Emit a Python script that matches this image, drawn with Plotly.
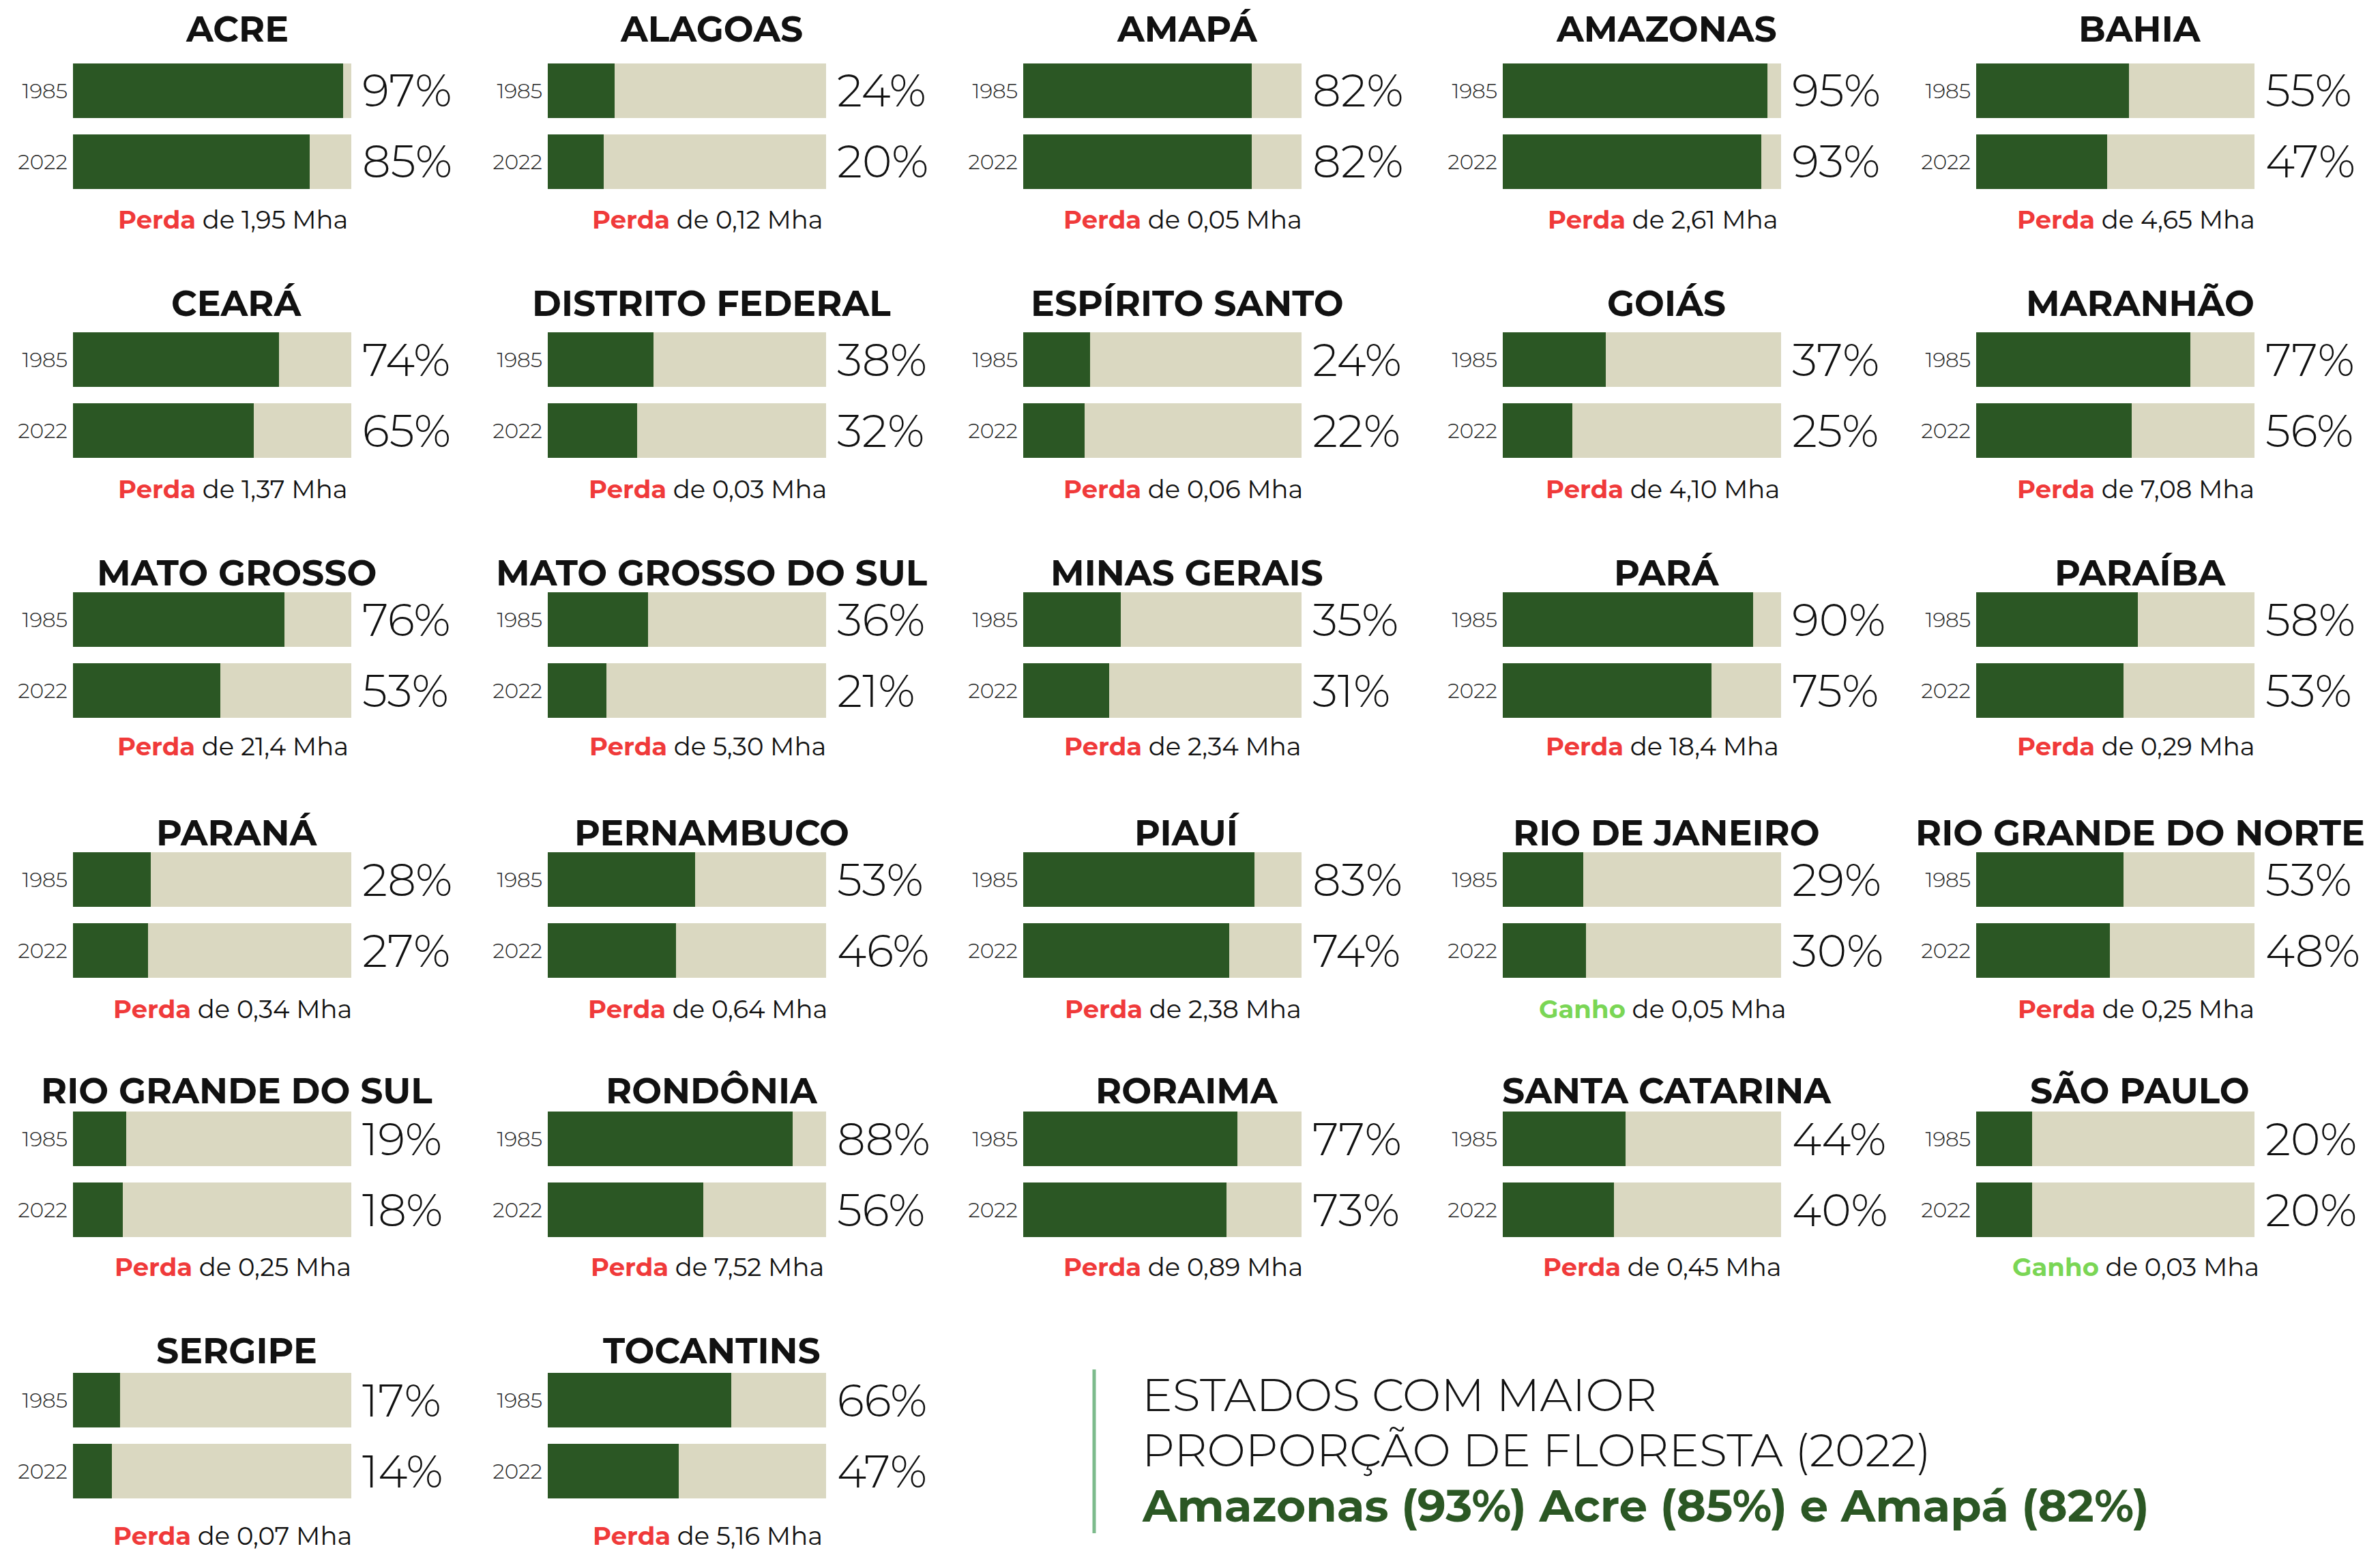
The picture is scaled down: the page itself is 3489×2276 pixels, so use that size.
import plotly.graph_objects as go

# Forest cover share by state (%), 1985 vs 2022, and net change (Mha)
states = [
    "ACRE", "ALAGOAS", "AMAPÁ", "AMAZONAS", "BAHIA",
    "CEARÁ", "DISTRITO FEDERAL", "ESPÍRITO SANTO", "GOIÁS", "MARANHÃO",
    "MATO GROSSO", "MATO GROSSO DO SUL", "MINAS GERAIS", "PARÁ", "PARAÍBA",
    "PARANÁ", "PERNAMBUCO", "PIAUÍ", "RIO DE JANEIRO", "RIO GRANDE DO NORTE",
    "RIO GRANDE DO SUL", "RONDÔNIA", "RORAIMA", "SANTA CATARINA", "SÃO PAULO",
    "SERGIPE", "TOCANTINS",
]
forest_1985 = [97, 24, 82, 95, 55, 74, 38, 24, 37, 77, 76, 36, 35, 90, 58,
               28, 53, 83, 29, 53, 19, 88, 77, 44, 20, 17, 66]
forest_2022 = [85, 20, 82, 93, 47, 65, 32, 22, 25, 56, 53, 21, 31, 75, 53,
               27, 46, 74, 30, 48, 18, 56, 73, 40, 20, 14, 47]
change_kind = ["Perda"] * 18 + ["Ganho", "Perda", "Perda", "Perda", "Perda",
                                "Perda", "Ganho", "Perda", "Perda"]
change_mha = ["1,95", "0,12", "0,05", "2,61", "4,65", "1,37", "0,03", "0,06",
              "4,10", "7,08", "21,4", "5,30", "2,34", "18,4", "0,29", "0,34",
              "0,64", "2,38", "0,05", "0,25", "0,25", "7,52", "0,89", "0,45",
              "0,03", "0,07", "5,16"]
years = ["1985", "2022"]

# Page geometry (pixels)
W, H = 3489, 2276
COL_X = [107, 803, 1500, 2203, 2897]          # left edge of bars per column
ROW_Y = [93, 487, 868, 1249, 1629, 2012]      # top edge of first bar per row
TITLE_GAP = [51, 43, 29, 29, 31, 33]          # title centre above first bar
NOTE_GAP = [44, 45, 41, 45, 43, 54]           # note centre below second bar
BAR_W = 408
BAR_H = 80
PITCH = 104

GREEN = "#2b5724"
BEIGE = "#dad8c1"
RED = "#f03a3a"
LIGHT_GREEN = "#7ad655"
TEXT = "#111111"

LIGHT_FONT = "Montserrat, Inter, 'Open Sans', sans-serif"
BOLD_FONT = "Montserrat, Inter, 'Open Sans', sans-serif"

w = BAR_H / PITCH
fig = go.Figure()
annotations = []


def px(x):
    return x / W


def py(y):
    return 1 - y / H


layout_axes = {}
for i, name in enumerate(states):
    r, c = divmod(i, 5)
    k = i + 1
    xa = "x" if k == 1 else f"x{k}"
    ya = "y" if k == 1 else f"y{k}"
    x0 = COL_X[c]
    top = ROW_Y[r]
    bottom = top + PITCH + BAR_H

    vals = [forest_1985[i], forest_2022[i]]
    ypos = [1, 0]
    fig.add_trace(go.Bar(
        x=vals, y=ypos, orientation="h", width=w,
        marker=dict(color=GREEN, line=dict(width=0)),
        xaxis=xa, yaxis=ya, showlegend=False, hoverinfo="skip",
    ))
    fig.add_trace(go.Bar(
        x=[100 - v for v in vals], y=ypos, orientation="h", width=w,
        marker=dict(color=BEIGE, line=dict(width=0)),
        xaxis=xa, yaxis=ya, showlegend=False, hoverinfo="skip",
    ))

    xkey = "xaxis" if k == 1 else f"xaxis{k}"
    ykey = "yaxis" if k == 1 else f"yaxis{k}"
    layout_axes[xkey] = dict(
        domain=[px(x0), px(x0 + BAR_W)], anchor=ya, range=[0, 100],
        visible=False, fixedrange=True,
    )
    layout_axes[ykey] = dict(
        domain=[py(bottom), py(top)], anchor=xa, range=[-w / 2, 1 + w / 2],
        tickvals=ypos, ticktext=years, showgrid=False, zeroline=False,
        showline=False, ticks="", ticklabelstandoff=7,
        tickfont=dict(family=LIGHT_FONT, size=31, color="#222", weight=300),
        fixedrange=True,
    )

    # percentage labels to the right of each bar
    for v, yy in zip(vals, ypos):
        annotations.append(dict(
            x=100, y=yy, xref=xa, yref=ya, text=f"{v}%", showarrow=False,
            xanchor="left", yanchor="middle", xshift=14,
            font=dict(family=LIGHT_FONT, size=66, color=TEXT, weight=300),
        ))

    # state name
    annotations.append(dict(
        x=px(x0 + 240), y=py(top - TITLE_GAP[r]), xref="paper", yref="paper",
        text=f"<b>{name}</b>", showarrow=False, xanchor="center",
        yanchor="middle",
        font=dict(family=BOLD_FONT, size=52, color=TEXT, weight=800),
    ))

    # net change note
    colour = RED if change_kind[i] == "Perda" else LIGHT_GREEN
    annotations.append(dict(
        x=px(x0 + 234), y=py(bottom + NOTE_GAP[r]), xref="paper",
        yref="paper",
        text=(f"<span style='color:{colour}'><b>{change_kind[i]}</b></span>"
              f" de {change_mha[i]} Mha"),
        showarrow=False, xanchor="center", yanchor="middle",
        font=dict(family=LIGHT_FONT, size=37, color=TEXT, weight=400),
    ))

# Highlight box: states with the highest forest share in 2022
top3 = sorted(range(len(states)), key=lambda j: -forest_2022[j])[:3]
names3 = [f"{states[j].title()} ({forest_2022[j]}%)" for j in top3]
highlight = f"{names3[0]} {names3[1]} e {names3[2]}"

BOX_X = 1672
annotations += [
    dict(x=px(BOX_X), y=py(2044), xref="paper", yref="paper",
         text="ESTADOS COM MAIOR", showarrow=False, xanchor="left",
         yanchor="middle",
         font=dict(family=LIGHT_FONT, size=67, color=TEXT, weight=300)),
    dict(x=px(BOX_X), y=py(2125), xref="paper", yref="paper",
         text="PROPORÇÃO DE FLORESTA (2022)", showarrow=False,
         xanchor="left", yanchor="middle",
         font=dict(family=LIGHT_FONT, size=67, color=TEXT, weight=300)),
    dict(x=px(BOX_X), y=py(2206), xref="paper", yref="paper",
         text=f"<b>{highlight}</b>", showarrow=False, xanchor="left",
         yanchor="middle",
         font=dict(family=BOLD_FONT, size=66, color=GREEN, weight=800)),
]

shapes = [dict(
    type="line", xref="paper", yref="paper",
    x0=px(1604), x1=px(1604), y0=py(2007), y1=py(2247),
    line=dict(color="#7dbb8c", width=5),
)]

fig.update_layout(
    width=W, height=H, margin=dict(l=0, r=0, t=0, b=0),
    paper_bgcolor="white", plot_bgcolor="white",
    barmode="stack", bargap=0,
    annotations=annotations, shapes=shapes,
    **layout_axes,
)

fig.write_html("out.html")
